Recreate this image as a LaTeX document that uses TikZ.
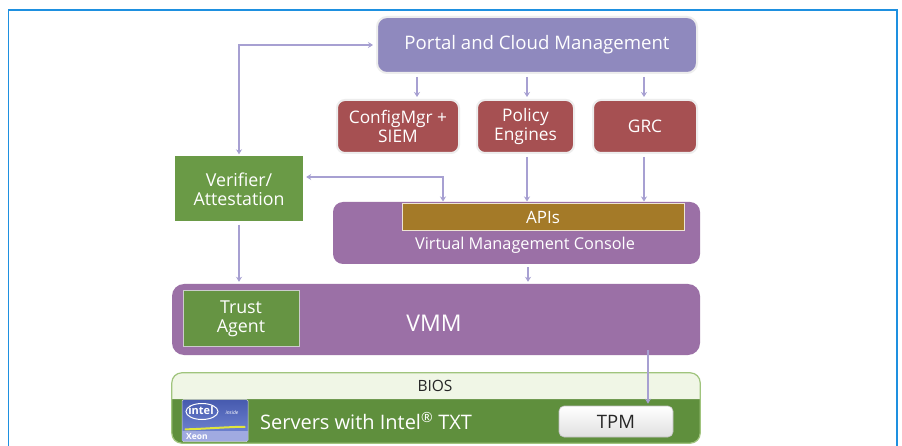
\documentclass[tikz,border=0pt]{standalone}
\usepackage{fontspec}
\setmainfont{Open Sans}
\usetikzlibrary{arrows.meta,calc}
\definecolor{framec}{RGB}{30,144,224}
\definecolor{portalc}{RGB}{143,137,190}
\definecolor{redc}{RGB}{166,80,82}
\definecolor{verc}{RGB}{106,154,70}
\definecolor{trustc}{RGB}{102,148,67}
\definecolor{purpc}{RGB}{155,112,166}
\definecolor{apic}{RGB}{164,122,40}
\definecolor{arrowc}{RGB}{167,160,210}
\definecolor{servc}{RGB}{95,143,61}
\definecolor{biosc}{RGB}{240,246,230}
\definecolor{biosb}{RGB}{160,196,125}
\definecolor{logotop}{RGB}{70,90,175}
\definecolor{logobot}{RGB}{120,140,215}
\definecolor{xeonc}{RGB}{160,170,225}
\definecolor{swoosh}{RGB}{225,230,60}
\tikzset{
  box/.style={inner sep=0pt, align=center, text=white},
  halo/.style={draw=black!7, line width=2pt},
  arr/.style={draw=arrowc, line width=1.3pt, -{Stealth[length=5pt,width=6pt]}, shorten <=3pt, shorten >=2pt},
  darr/.style={draw=arrowc, line width=1.3pt, {Stealth[length=5pt,width=6pt]}-{Stealth[length=5pt,width=6pt]}, shorten <=3pt, shorten >=2pt},
}
\begin{document}
\begin{tikzpicture}[x=1pt,y=-1pt]
\useasboundingbox (0,0) rectangle (902,446);
\fill[white] (0,0) rectangle (902,446);
\draw[framec, line width=1.6pt] (8.5,446) -- (8.5,10) -- (897,10) -- (897,446);

% top
\node[box, halo, fill=portalc, rounded corners=10pt, minimum width=320pt, minimum height=56pt,
  font=\fontsize{18.6}{20}\selectfont] (portal) at (537,45) {Portal and Cloud Management};
\node[box, halo, fill=redc, rounded corners=8pt, minimum width=122pt, minimum height=53pt,
  font=\fontsize{17.3}{19}\selectfont] (cfg) at (398,126.5) {ConfigMgr +\\SIEM};
\node[box, halo, fill=redc, rounded corners=8pt, minimum width=97pt, minimum height=53pt,
  font=\fontsize{17.3}{19}\selectfont] (pol) at (525.5,126.5) {Policy\\Engines};
\node[box, halo, fill=redc, rounded corners=8pt, minimum width=104pt, minimum height=53pt,
  font=\fontsize{17.3}{19}\selectfont] (grc) at (645,126.5) {GRC};

\node[box, fill=verc, minimum width=128pt, minimum height=65pt,
  font=\fontsize{17.8}{19}\selectfont] (ver) at (239,189) {Verifier/\\Attestation};

% VMC
\node[box, fill=purpc, rounded corners=10pt, minimum width=367pt, minimum height=62pt] (vmc) at (516.5,233) {};
\node[box, fill=apic, draw=white!80!apic, line width=1pt, minimum width=282pt, minimum height=27pt,
  font=\fontsize{17}{19}\selectfont] (apis) at (543,217.5) {APIs};
\node[box, font=\fontsize{16.3}{18}\selectfont] (vmctext) at (525,245.5) {Virtual Management Console};

% VMM
\node[box, fill=purpc, rounded corners=12pt, minimum width=528pt, minimum height=71pt] (vmm) at (436,319.5) {};
\node[box, fill=trustc, draw=black!20, line width=1pt, minimum width=116pt, minimum height=55pt,
  font=\fontsize{17.8}{19}\selectfont] (trust) at (241,318.5) {Trust\\Agent};
\node[box, font=\fontsize{23}{25}\selectfont] (vmmtext) at (434,323) {VMM};

% Server / BIOS
\node[box, fill=servc, rounded corners=10pt, minimum width=528pt, minimum height=70pt] (serv) at (436,408) {};
\fill[biosc] (serv.west |- 0,399) [rounded corners=10pt] -- (serv.north west) -- (serv.north east) [sharp corners] -- (serv.east |- 0,399) -- cycle;
\draw[biosb, line width=1.2pt, rounded corners=10pt] (serv.north west) rectangle (serv.south east);
\node[box, text=black!85, font=\fontsize{15.5}{17}\selectfont] (bios) at (435,386) {BIOS};
\node[box, anchor=west, font=\fontsize{20}{22}\selectfont] (servtext) at (260,421) {Servers with Intel\textsuperscript{®} TXT};
\node[box, top color=white, bottom color=black!12, draw=black!25, line width=0.6pt, rounded corners=5pt,
  minimum width=114pt, minimum height=31pt, text=black!85, font=\fontsize{18.5}{20}\selectfont] (tpm) at (616,421.5) {TPM};

% Intel logo
\node[box, top color=logotop, bottom color=logobot, draw=black!15, line width=0.5pt, rounded corners=1.5pt,
  minimum width=66pt, minimum height=42pt] (logo) at (215,420.5) {};
\fill[xeonc] ([xshift=0.5pt,yshift=0.5pt]logo.south west) rectangle ([xshift=-0.5pt,yshift=11pt]logo.south east);
\draw[swoosh, line width=2pt] ([xshift=3pt,yshift=12.5pt]logo.south west) .. controls ([xshift=-25pt,yshift=12pt]logo.south) and ([xshift=15pt,yshift=15pt]logo.south) .. ([xshift=-3pt,yshift=15pt]logo.south east);
\draw[white, line width=1pt] (202,411.5) ellipse [x radius=16pt, y radius=8pt];
\node[box, font=\fontsize{11}{11}\selectfont\bfseries] (inteltext) at (201,410.5) {intel};
\node[box, font=\fontsize{5}{5}\selectfont\itshape] (insidetext) at (232,413) {inside};
\node[box, font=\fontsize{8.5}{8.5}\selectfont\bfseries] (xeontext) at (197,437) {Xeon};

% arrows
\draw[arr] ([xshift=19pt]cfg.north |- portal.south) -- ([xshift=19pt]cfg.north);
\draw[arr] ([xshift=1.5pt]pol.north |- portal.south) -- ([xshift=1.5pt]pol.north);
\draw[arr] ([xshift=-1pt]grc.north |- portal.south) -- ([xshift=-1pt]grc.north);
\draw[arr] ([xshift=1.5pt]pol.south) -- ([xshift=1.5pt]pol.south |- apis.north);
\draw[arr] ([xshift=-1pt]grc.south) -- ([xshift=-1pt]grc.south |- apis.north);
\draw[darr] (portal.west) -| (ver.north);
\draw[darr] ([yshift=12pt]ver.east) -| ([xshift=-100pt]apis.north);
\draw[arr] ([xshift=11.5pt]vmc.south) -- ([xshift=11.5pt]vmc.south |- vmm.north);
\draw[arr] (ver.south) -- (ver.south |- vmm.north);
\draw[arr, shorten <=0pt] ([xshift=32pt,yshift=5pt]tpm.north |- vmm.south) -- ([xshift=32pt]tpm.north);
\end{tikzpicture}
\end{document}
